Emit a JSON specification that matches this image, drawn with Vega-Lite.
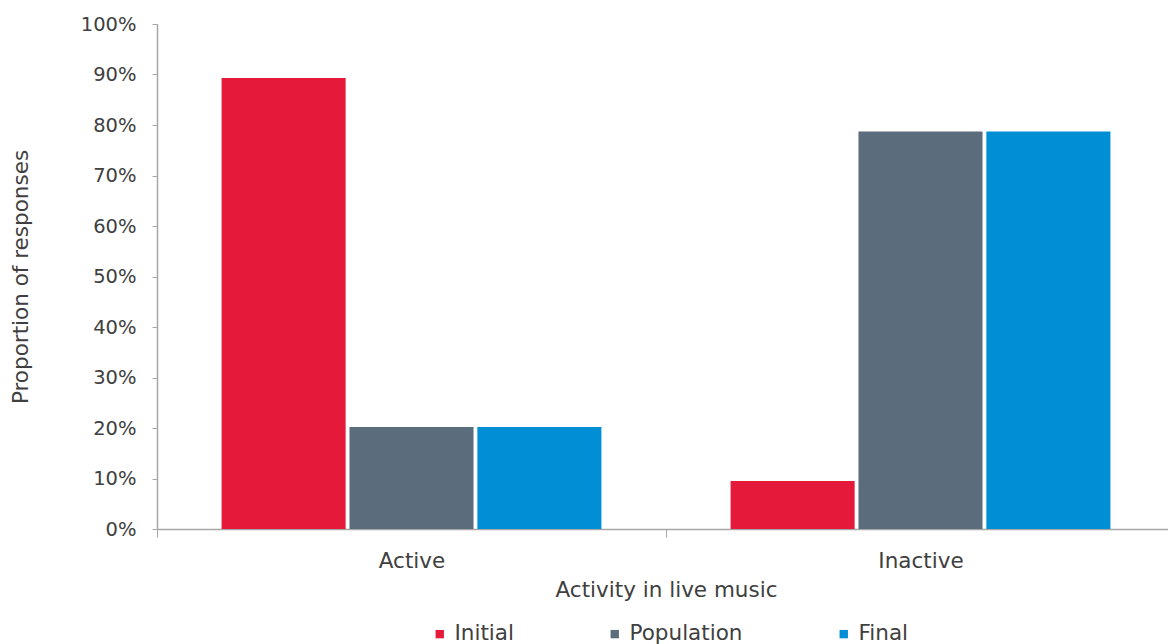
{
  "$schema": "https://vega.github.io/schema/vega-lite/v6.json",
  "width": 1011,
  "height": 505,
  "autosize": {"type": "none"},
  "padding": {"left": 157, "top": 24, "right": 0, "bottom": 115},
  "background": "white",
  "config": {
    "font": "DejaVu Sans",
    "view": {"stroke": null},
    "axis": {"labelColor": "#404040", "titleColor": "#404040", "domainColor": "#a6a6a6", "tickColor": "#a6a6a6", "grid": false}
  },
  "data": {
    "values": [
      {"activity": "Active", "series": "Initial", "share": 0.893},
      {"activity": "Active", "series": "Population", "share": 0.202},
      {"activity": "Active", "series": "Final", "share": 0.202},
      {"activity": "Inactive", "series": "Initial", "share": 0.095},
      {"activity": "Inactive", "series": "Population", "share": 0.787},
      {"activity": "Inactive", "series": "Final", "share": 0.787}
    ]
  },
  "mark": {"type": "bar"},
  "encoding": {
    "x": {
      "field": "activity",
      "type": "nominal",
      "scale": {"range": [0, 1018], "paddingInner": 0, "paddingOuter": 0},
      "axis": {
        "title": "Activity in live music",
        "labelAngle": 0,
        "labelFontSize": 21.5,
        "labelFontWeight": "normal",
        "labelPadding": 13,
        "tickBand": "extent",
        "tickSize": 8,
        "domainWidth": 1.5,
        "titleFontSize": 21.5,
        "titleFontWeight": "normal",
        "titlePadding": 8
      }
    },
    "xOffset": {
      "field": "series",
      "type": "nominal",
      "sort": ["Initial", "Population", "Final"],
      "scale": {"paddingInner": 0.03, "paddingOuter": 0.505}
    },
    "y": {
      "field": "share",
      "type": "quantitative",
      "scale": {"domain": [0, 1]},
      "axis": {
        "title": "Proportion of responses",
        "format": ".0%",
        "values": [0, 0.1, 0.2, 0.3, 0.4, 0.5, 0.6, 0.7, 0.8, 0.9, 1],
        "labelFontSize": 19.5,
        "labelPadding": 16,
        "tickSize": 5,
        "domainWidth": 1.5,
        "titleFontSize": 21.5,
        "titleFontWeight": "normal",
        "titlePadding": 48
      }
    },
    "color": {
      "field": "series",
      "type": "nominal",
      "sort": ["Initial", "Population", "Final"],
      "scale": {"domain": ["Initial", "Population", "Final"], "range": ["#e51a3b", "#5b6c7d", "#008fd5"]},
      "legend": {
        "title": null,
        "orient": "none",
        "direction": "horizontal",
        "legendX": 272,
        "legendY": 599,
        "symbolType": "square",
        "symbolSize": 70,
        "symbolStrokeWidth": 0,
        "labelFontSize": 21.5,
        "labelColor": "#404040",
        "columnPadding": 90
      }
    }
  }
}
